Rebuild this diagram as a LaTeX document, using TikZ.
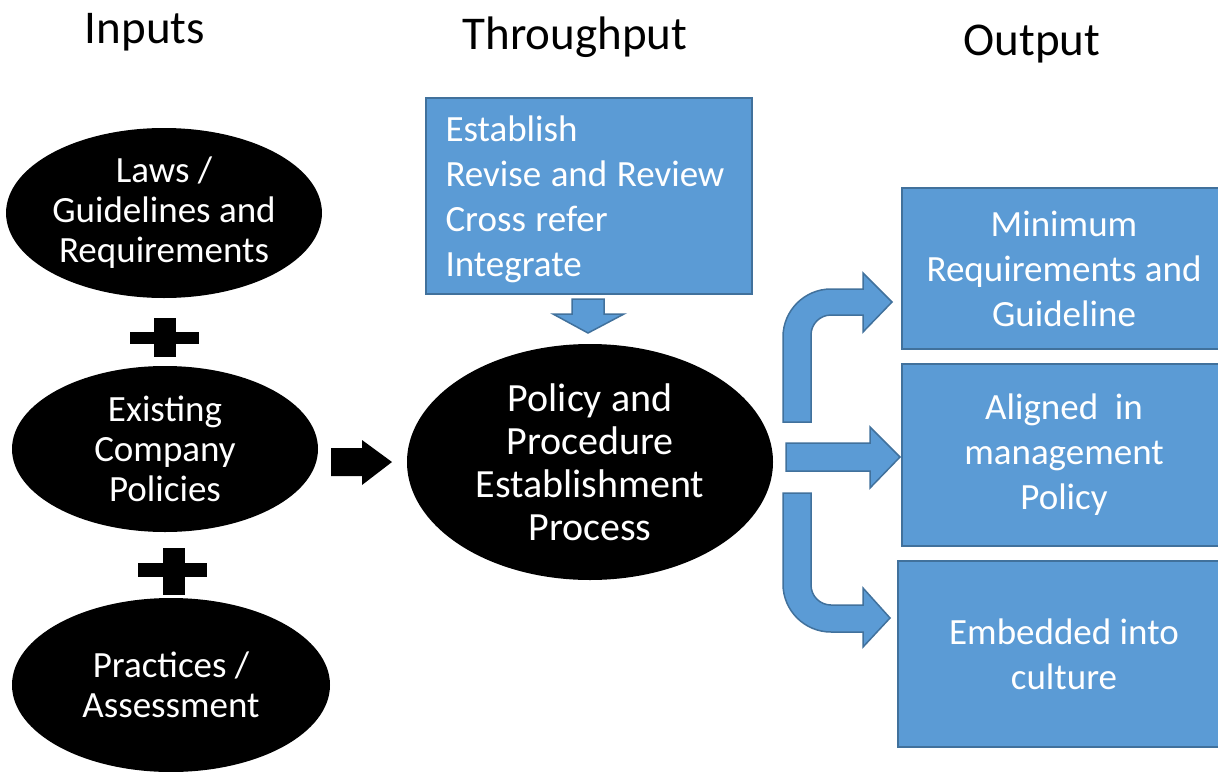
\documentclass[tikz,border=0pt]{standalone}
\usepackage{fontspec}
\setmainfont{Carlito}
\usetikzlibrary{shapes.geometric}
\definecolor{boxblue}{HTML}{5B9BD5}
\definecolor{boxedge}{HTML}{41719C}
\newcommand{\tightspace}{\spaceskip=9.5pt\relax}
\begin{document}
\begin{tikzpicture}[x=1pt,y=-1pt,
 title/.style={font=\fontsize{47}{56}\selectfont, inner sep=0, anchor=base},
 blackell/.style={ellipse, fill=black, text=white, inner sep=0, align=center, font=\fontsize{37}{40}\selectfont},
 bluebox/.style={rectangle, fill=boxblue, draw=boxedge, line width=2pt, text=white, inner sep=0, align=center, font=\fontsize{37}{45}\selectfont},
 boxtext/.style={text=white, inner sep=0, font=\fontsize{37}{45}\selectfont},
 blockarrow/.style={fill=boxblue, draw=boxedge, line width=1.5pt, line join=miter},
 plus/.style={fill=black}
 ]
\useasboundingbox (0,0) rectangle (1218,771);
\fill[white] (0,0) rectangle (1218,771);

% titles
\node[title] (tin) at (145,43) {Inputs};
\node[title] (tthr) at (575,49) {Throughput};
\node[title] (tout) at (1032,55) {Output};

% input ellipses
\node[blackell, minimum width=308pt, minimum height=170pt] (laws) at (164,213) {Laws /\\Guidelines and\\Requirements};
\node[blackell, minimum width=306pt, minimum height=166pt] (exist) at (165,449) {Existing\\Company\\Policies};
\node[blackell, minimum width=318pt, minimum height=174pt] (prac) at (171,685) {Practices /\\Assessment};

% plus signs
\fill[plus] (130,332) rectangle (199,344);
\fill[plus] (154,318) rectangle (176,357);
\fill[plus] (138,563) rectangle (207,577);
\fill[plus] (163,548) rectangle (185,595);

% black arrow
\fill (331,448) -- (362,448) -- (362,440) -- (392,462) -- (362,485) -- (362,476) -- (331,476) -- cycle;

% central process
\node[blackell, minimum width=366pt, minimum height=236pt, font=\fontsize{40}{43}\selectfont] (proc) at (590,462) {Policy and\\Procedure\\Establishment\\Process};

% top box
\node[bluebox, minimum width=326pt, minimum height=196pt] (steps) at (588.5,195.5) {};
\node[boxtext, text width=286pt, align=left] (stepstxt) at ([yshift=-4pt]steps.center) {\tightspace Establish\\Revise and Review\\Cross refer\\Integrate};

% down arrow
\filldraw[blockarrow] (572,299) -- (604,299) -- (604,314) -- (624,314) -- (588,333) -- (553,314) -- (572,314) -- cycle;

% output boxes
\node[bluebox, minimum width=324pt, minimum height=161pt] (out1) at (1064,268.5) {Minimum\\Requirements and\\Guideline};
\node[bluebox, minimum width=324pt, minimum height=182pt] (out2) at (1064,455) {Aligned\ \ in\\management\\Policy};
\node[bluebox, minimum width=332pt, minimum height=186pt] (out3) at (1064,654) {Embedded into\\culture};

% output arrows
\filldraw[blockarrow] (783,422) -- (783,337) arc[start angle=180,end angle=270,radius=48] -- (863,289) -- (863,273) -- (892,302) -- (863,332) -- (863,315) -- (831,315) arc[start angle=270,end angle=180,radius=20] -- (811,422) -- cycle;
\filldraw[blockarrow] (786,443) -- (870,443) -- (870,427) -- (900,457) -- (870,488) -- (870,471) -- (786,471) -- cycle;
\filldraw[blockarrow] (783,493) -- (783,584) arc[start angle=180,end angle=90,radius=48] -- (863,632) -- (863,647) -- (890,618) -- (863,588) -- (863,605) -- (831,605) arc[start angle=90,end angle=180,radius=20] -- (811,493) -- cycle;
\end{tikzpicture}
\end{document}
